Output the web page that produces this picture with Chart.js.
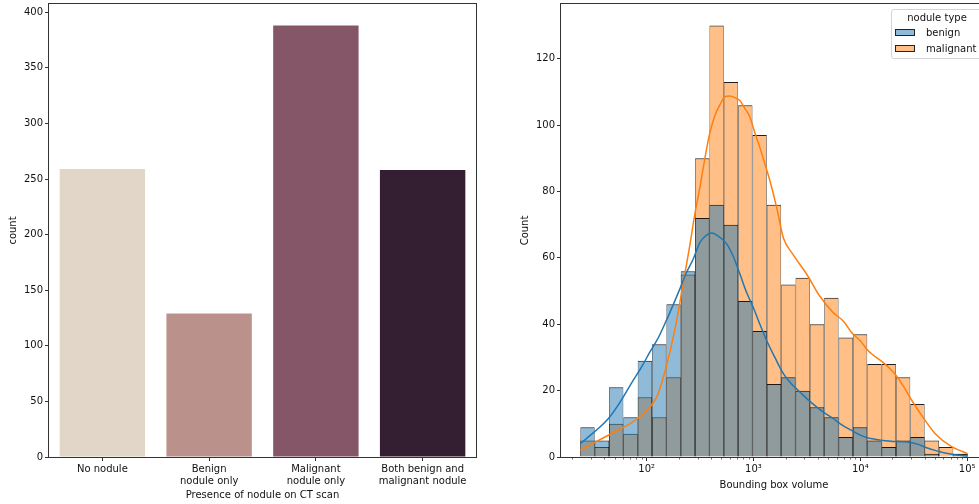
<!DOCTYPE html>
<html>
<head>
<meta charset="utf-8">
<script src="https://cdn.jsdelivr.net/npm/chart.js@4.4.1/dist/chart.umd.min.js"></script>
<style>
  html, body { margin: 0; padding: 0; background: #fff; }
  body { width: 979px; height: 504px; overflow: hidden; position: relative; }
  canvas { position: absolute; top: 0; }
  #left { left: 0; }
  #right { left: 500px; }
  #legend {
    position: absolute; left: 891px; top: 9px; width: 92px; height: 50px;
    box-sizing: border-box; border: 1px solid #d4d4d4; border-radius: 3px;
    background: rgba(255,255,255,0.8);
    font-family: 'DejaVu Sans', sans-serif; font-size: 10px; color: #111;
  }
  #legend .ttl { position: absolute; left: 0; width: 100%; top: 2px; text-align: center; line-height: 12px; }
  #legend .sw { position: absolute; left: 3px; width: 20px; height: 7px; box-sizing: border-box; border: 1px solid #222; }
  #legend .lb { position: absolute; left: 34px; line-height: 12px; white-space: nowrap; }
</style>
</head>
<body>
<canvas id="left" width="490" height="504"></canvas>
<canvas id="right" width="490" height="504"></canvas>
<div id="legend">
  <div class="ttl">nodule type</div>
  <div class="sw" style="top:19px;background:#8fbbd9"></div>
  <div class="lb" style="top:17px">benign</div>
  <div class="sw" style="top:35px;background:#ffbf86"></div>
  <div class="lb" style="top:33px">malignant</div>
</div>
<script>
// left panel: counts per category
const categories = ['No nodule', ['Benign', 'nodule only'], ['Malignant', 'nodule only'], ['Both benign and', 'malignant nodule']];
const counts = [259, 129, 388, 258];

// right panel: histogram of bounding box volume (log10 bins)
const binFirstEdge = 1.379;   // log10 of smallest volume
const binLastEdge = 5.005;    // log10 of largest volume
const benign =    [9, 5, 21, 12, 29, 34, 46, 56, 72, 76, 70, 47, 38, 22, 24, 20, 15, 12, 6, 9, 5, 3, 5, 6, 1, 0, 1];
const malignant = [5, 3, 10, 7, 18, 12, 24, 55, 90, 130, 113, 106, 97, 76, 52, 54, 40, 48, 36, 37, 28, 28, 24, 16, 5, 3, 1];

// kde curves (x = log10 volume)
const benignKdeX = [1.379, 1.46, 1.544, 1.64, 1.747, 1.872, 1.95, 2.028, 2.11, 2.185, 2.25, 2.309, 2.372, 2.434, 2.497, 2.55, 2.606, 2.66, 2.747, 2.81, 2.872, 2.93, 2.996, 3.06, 3.122, 3.2, 3.278, 3.356, 3.434, 3.512, 3.59, 3.668, 3.746, 3.83, 3.918, 4.0, 4.074, 4.152, 4.231, 4.308, 4.387, 4.465, 4.543, 4.621, 4.7, 4.793, 4.9, 5.005];
const benignKdeY = [4.0, 6.2, 8.5, 11.5, 16.3, 23, 27, 31.5, 36, 41.2, 46, 50.5, 55.5, 59.5, 64.5, 66.6, 67.5, 66.8, 64.3, 60.5, 55.2, 50, 45.2, 40, 35.2, 30, 25.2, 22, 19.6, 17.2, 15.1, 13.2, 11.6, 9.6, 8.0, 6.6, 5.7, 5.3, 4.9, 4.7, 4.6, 4.4, 3.8, 2.8, 2.0, 1.2, 0.6, 0.3];
const malignantKdeX = [1.379, 1.46, 1.544, 1.7, 1.857, 1.95, 2.03, 2.1, 2.16, 2.22, 2.28, 2.34, 2.4, 2.45, 2.497, 2.545, 2.59, 2.64, 2.684, 2.73, 2.778, 2.83, 2.872, 2.92, 2.965, 3.01, 3.059, 3.11, 3.153, 3.216, 3.28, 3.371, 3.5, 3.62, 3.746, 3.84, 3.918, 4.0, 4.074, 4.231, 4.324, 4.4, 4.481, 4.605, 4.699, 4.855, 5.005];
const malignantKdeY = [2.1, 3.5, 4.9, 7.6, 10.3, 12.5, 15.0, 18.5, 24.5, 32, 41, 52, 63, 73, 81, 90, 97.5, 103, 106, 108.5, 108.8, 108.2, 107.4, 105, 102.5, 98, 93.3, 88, 83.3, 75.3, 66, 61, 55, 48.5, 43.5, 41, 37.5, 35, 32, 28, 25, 21.5, 17.1, 11.1, 7.1, 3.1, 1.0];

const barColors = ['#e2d6c9', '#bb928b', '#855568', '#331e32'];
const font = { family: "'DejaVu Sans', sans-serif", size: 10 };
const ink = '#111';

const frame = {
  id: 'frame',
  afterDatasetsDraw(chart) {
    const a = chart.chartArea, c = chart.ctx;
    c.save();
    c.strokeStyle = '#333';
    c.lineWidth = 1;
    c.strokeRect(Math.round(a.left) - 0.5, Math.round(a.top) - 0.5, Math.round(a.right - a.left) + 1, Math.round(a.bottom - a.top) + 1);
    c.restore();
  }
};

function axisX(extra) {
  return Object.assign({
    grid: { display: true, drawOnChartArea: false, tickLength: 4, tickColor: '#333', offset: false },
    border: { display: false },
    ticks: { color: ink, font, padding: 2, maxRotation: 0, autoSkip: false },
    afterFit(s) { s.height = 47; s.paddingLeft = 0; s.paddingRight = 0; }
  }, extra);
}
function axisY(width, extra) {
  return Object.assign({
    grid: { display: true, drawOnChartArea: false, tickLength: 4, tickColor: '#333' },
    border: { display: false },
    afterFit(s) { s.width = width; s.paddingTop = 0; s.paddingBottom = 0; }
  }, extra);
}

new Chart(document.getElementById('left'), {
  type: 'bar',
  data: {
    labels: categories,
    datasets: [{
      data: counts,
      backgroundColor: barColors,
      categoryPercentage: 0.8,
      barPercentage: 1,
      inflateAmount: 0
    }]
  },
  options: {
    responsive: false,
    animation: false,
    layout: { padding: { left: 0, top: 4, right: 14, bottom: 0 } },
    plugins: { legend: { display: false }, tooltip: { enabled: false } },
    scales: {
      x: axisX({
        title: { display: true, text: 'Presence of nodule on CT scan', color: ink, font, padding: { top: 0, bottom: 3 } }
      }),
      y: axisY(49, {
        min: 0, max: 407.4,
        ticks: { stepSize: 50, includeBounds: false, color: ink, font, padding: 2 },
        title: { display: true, text: 'count', color: ink, font, padding: { top: 7, bottom: 0 } }
      })
    }
  },
  plugins: [frame]
});

// bin centres from equal log-width bins
const nBins = benign.length;
const binW = (binLastEdge - binFirstEdge) / nBins;
const centres = benign.map((_, i) => binFirstEdge + binW * (i + 0.5));
const pairs = (xs, ys) => xs.map((x, i) => ({ x, y: ys[i] }));

const sup = { 2: '\u00b2', 3: '\u00b3', 4: '\u2074', 5: '\u2075' };

const minorTicks = {
  id: 'minorTicks',
  afterDraw(chart) {
    const s = chart.scales.x, c = chart.ctx, y0 = chart.chartArea.bottom;
    c.save();
    c.strokeStyle = '#333';
    c.lineWidth = 0.7;
    for (let n = 1; n <= 5; n++) {
      for (let k = 2; k <= 9; k++) {
        const v = Math.log10(k * Math.pow(10, n));
        if (v < s.min || v > s.max) continue;
        const px = Math.round(s.getPixelForValue(v)) + 0.5;
        c.beginPath();
        c.moveTo(px, y0);
        c.lineTo(px, y0 + 2.5);
        c.stroke();
      }
    }
    c.restore();
  }
};

const edge = { top: 1, left: 0.6, right: 0.6, bottom: 0 };

new Chart(document.getElementById('right'), {
  type: 'bar',
  data: {
    datasets: [
      { type: 'line', data: pairs(benignKdeX, benignKdeY), borderColor: '#1f77b4', borderWidth: 1.5, pointRadius: 0, cubicInterpolationMode: 'monotone', order: 0 },
      { type: 'line', data: pairs(malignantKdeX, malignantKdeY), borderColor: '#ff7f0e', borderWidth: 1.5, pointRadius: 0, cubicInterpolationMode: 'monotone', order: 0 },
      { label: 'benign', data: pairs(centres, benign), backgroundColor: 'rgba(31,119,180,0.5)', borderColor: 'rgba(0,0,0,0.88)', borderWidth: edge, barPercentage: 1, categoryPercentage: 1, inflateAmount: 0, grouped: false, order: 1 },
      { label: 'malignant', data: pairs(centres, malignant), backgroundColor: 'rgba(255,127,14,0.5)', borderColor: 'rgba(0,0,0,0.88)', borderWidth: edge, barPercentage: 1, categoryPercentage: 1, inflateAmount: 0, grouped: false, order: 2 }
    ]
  },
  options: {
    responsive: false,
    animation: false,
    layout: { padding: { left: 0, top: 4, right: 3, bottom: 0 } },
    plugins: { legend: { display: false }, tooltip: { enabled: false } },
    scales: {
      x: axisX({
        type: 'linear', min: 1.198, max: 5.186, offset: false,
        afterBuildTicks(s) { s.ticks = [2, 3, 4, 5].map(v => ({ value: v })); },
        ticks: { color: ink, font, padding: 2, maxRotation: 0, autoSkip: false, callback: v => '10' + sup[v] },
        title: { display: true, text: 'Bounding box volume', color: ink, font, padding: { top: 0, bottom: 13 } }
      }),
      y: axisY(61, {
        min: 0, max: 136.5,
        ticks: { stepSize: 20, includeBounds: false, color: ink, font, padding: 2 },
        title: { display: true, text: 'Count', color: ink, font, padding: { top: 19, bottom: 0 } }
      })
    }
  },
  plugins: [frame, minorTicks]
});
</script>
</body>
</html>
